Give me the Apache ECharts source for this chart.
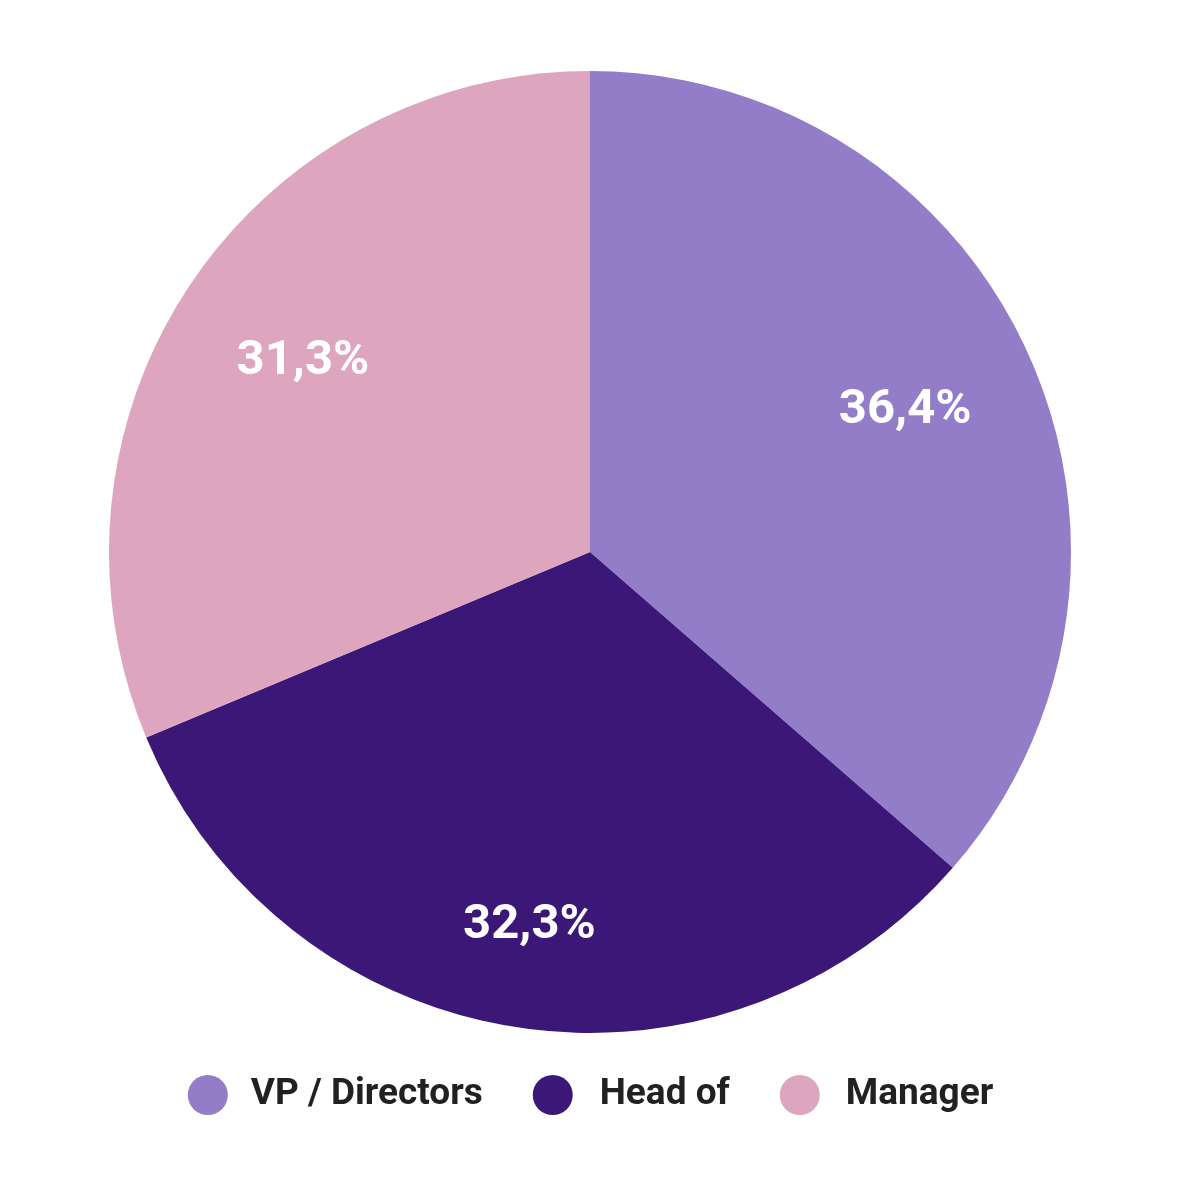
<!DOCTYPE html>
<html>
<head>
<meta charset="utf-8">
<script src="https://cdn.jsdelivr.net/npm/echarts@6/dist/echarts.min.js"></script>
<style>
  html, body { margin: 0; padding: 0; background: #fff; }
  #chart { width: 1181px; height: 1181px; }
</style>
</head>
<body>
<div id="chart"></div>
<script>
  // values
  const categories = ["VP / Directors", "Head of", "Manager"];
  const shares = [36.4, 32.3, 31.3];
  const colors = ["#937dc8", "#3b1878", "#dea5be"];

  const fmt = (v) => v.toFixed(1).replace(".", ",") + "%";

  const chart = echarts.init(document.getElementById("chart"));

  const pieData = categories.map((name, i) => ({
    name: name,
    value: shares[i],
    itemStyle: { color: colors[i] }
  }));

  // transparent ring only used to place the labels further out
  const labelOffsets = [[-2, 3], [-5, 30], [3, 3]];
  const labelData = categories.map((name, i) => ({
    name: name,
    value: shares[i],
    itemStyle: { color: "rgba(0,0,0,0)" },
    label: { offset: labelOffsets[i] }
  }));

  const legendPads = [[0, 0, 0, 18], [0, 11, 0, 22], [0, 0, 0, 21]];
  const legendData = categories.map((name, i) => ({
    name: name,
    textStyle: { padding: legendPads[i] }
  }));

  chart.setOption({
    animation: false,
    legend: {
      data: legendData,
      left: "center",
      top: 1070,
      icon: "circle",
      itemWidth: 40,
      itemHeight: 40,
      itemGap: 50,
      textStyle: {
        fontFamily: "Roboto",
        fontWeight: 700,
        fontSize: 37,
        color: "#212121"
      }
    },
    series: [
      {
        name: "main",
        type: "pie",
        center: [590, 552],
        radius: [0, 481],
        startAngle: 90,
        clockwise: true,
        silent: true,
        label: { show: false },
        labelLine: { show: false },
        data: pieData
      },
      {
        name: "labels",
        type: "pie",
        center: [590, 552],
        radius: [210, 481],
        startAngle: 90,
        clockwise: true,
        silent: true,
        legendHoverLink: false,
        label: {
          show: true,
          position: "inside",
          formatter: (p) => fmt(p.value),
          fontFamily: "Roboto",
          fontWeight: 700,
          fontSize: 49,
          color: "#ffffff"
        },
        labelLine: { show: false },
        data: labelData
      }
    ]
  });
</script>
</body>
</html>
